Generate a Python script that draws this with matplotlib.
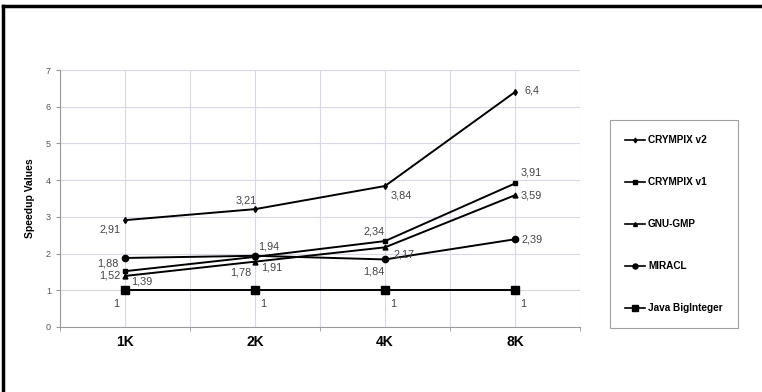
import matplotlib.pyplot as plt
from matplotlib.lines import Line2D

plt.rcParams['font.family'] = ['Liberation Sans', 'DejaVu Sans']

sizes = ["1K", "2K", "4K", "8K"]
crympix_v2 = [2.91, 3.21, 3.84, 6.4]
crympix_v1 = [1.52, 1.91, 2.34, 3.91]
gnu_gmp = [1.39, 1.78, 2.17, 3.59]
miracl = [1.88, 1.94, 1.84, 2.39]
java_bi = [1, 1, 1, 1]

series = [
    ("CRYMPIX v2", crympix_v2, "d", 3),
    ("CRYMPIX v1", crympix_v1, "s", 3),
    ("GNU-GMP", gnu_gmp, "^", 3.5),
    ("MIRACL", miracl, "o", 4.5),
    ("Java BigInteger", java_bi, "s", 5.5),
]

# label offsets (points) per series and point
offsets = {
    "CRYMPIX v2": [(-11, -7), (-6, 6), (12, -7), (12, 1)],
    "CRYMPIX v1": [(-11, -3), (12, -8), (-8, 7), (12, 8)],
    "GNU-GMP": [(12, -4), (-10, -8), (14, -5), (12, 0)],
    "MIRACL": [(-12, -4), (10, 7), (-8, -9), (12, 0)],
    "Java BigInteger": [(-6, -10), (6, -10), (6, -10), (6, -10)],
}

fig = plt.figure(figsize=(7.62, 3.92), dpi=100)
ax = fig.add_axes([60 / 762, 65 / 392, 520 / 762, 257 / 392])

x = list(range(len(sizes)))
for name, vals, mk, ms in series:
    ax.plot(x, vals, color="black", lw=1.4, marker=mk, markersize=ms)
    for i, v in enumerate(vals):
        ax.annotate(("%g" % v).replace(".", ","), (i, v),
                    xytext=offsets[name][i], textcoords="offset points",
                    ha="center", va="center", fontsize=7.8, color="#444444")

ax.set_xlim(-0.5, 3.5)
ax.set_ylim(0, 7)
ax.set_xticks(x)
ax.set_xticklabels(sizes, fontsize=10, fontweight="bold")
ax.set_xticks([-0.5, 0.5, 1.5, 2.5, 3.5], minor=True)
ax.set_yticks(range(8))
ax.tick_params(axis="y", labelsize=6.5, labelcolor="#555555", length=3, color="#999999")
ax.tick_params(axis="x", which="major", length=0, pad=6)
ax.tick_params(axis="x", which="minor", length=3, color="#999999")
ax.grid(True, which="both", color="#d8d8e6", lw=0.8)
ax.set_axisbelow(True)
for s in ["top", "right"]:
    ax.spines[s].set_visible(False)
for s in ["left", "bottom"]:
    ax.spines[s].set_color("#999999")
ax.set_ylabel("Speedup Values", fontsize=7.5, fontweight="bold", labelpad=8)

handles = [Line2D([], [], color="black", lw=1.2, marker=mk, markersize=ms * 0.8)
           for _, _, mk, ms in series]
leg = fig.legend(handles, [s[0] for s in series],
                 loc="upper left", bbox_to_anchor=(610 / 762, 1 - 120 / 392),
                 prop={"size": 7.2, "weight": "bold"}, frameon=True,
                 fancybox=False, edgecolor="#888888", handlelength=2.0,
                 handletextpad=0.3, labelspacing=3.2, borderpad=1.5,
                 borderaxespad=0)
leg.get_frame().set_linewidth(0.8)

# outer frame (top and left edges)
fig.add_artist(Line2D([3 / 762, 1], [1 - 6 / 392, 1 - 6 / 392], color="black", lw=2.5))
fig.add_artist(Line2D([3 / 762, 3 / 762], [0, 1 - 6 / 392], color="black", lw=2.5))

fig.savefig("out.png", dpi=100)
